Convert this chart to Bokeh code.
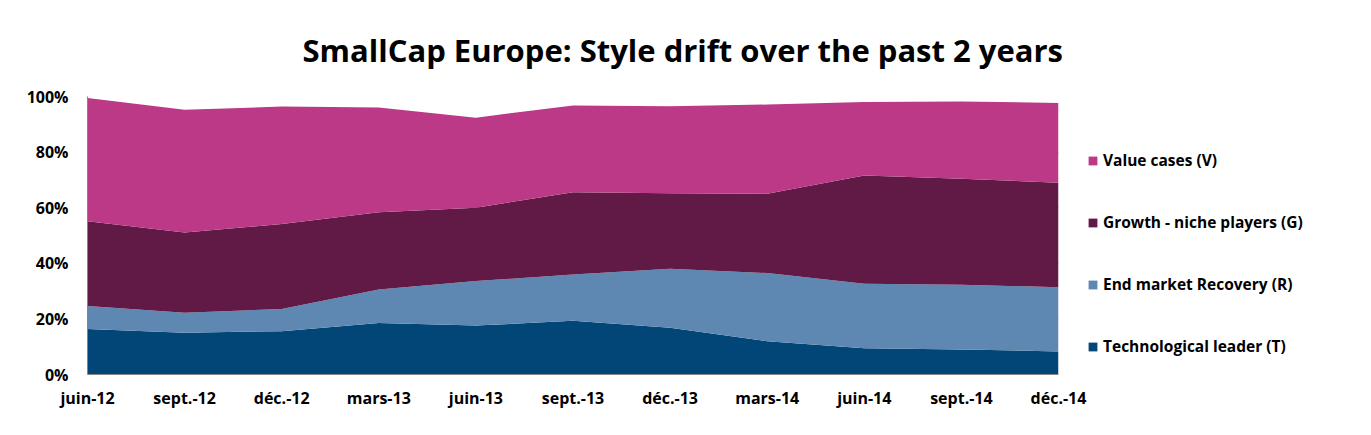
from bokeh.plotting import figure
from bokeh.models import FixedTicker, Range1d, Legend, LegendItem, ColumnDataSource
from bokeh.embed import file_html
from bokeh.resources import INLINE

categories = ["juin-12", "sept.-12", "déc.-12", "mars-13", "juin-13", "sept.-13",
              "déc.-13", "mars-14", "juin-14", "sept.-14", "déc.-14"]
tech = [16.4, 15.0, 15.6, 18.5, 17.6, 19.3, 16.8, 12.0, 9.4, 9.0, 8.3]
recovery = [8.2, 7.2, 8.0, 12.1, 16.0, 16.7, 21.2, 24.5, 23.2, 23.3, 23.1]
growth = [30.5, 28.9, 30.5, 27.8, 26.4, 29.6, 27.2, 28.5, 39.0, 38.1, 37.6]
value_cases = [44.4, 44.1, 42.3, 37.6, 32.4, 31.2, 31.3, 32.1, 26.4, 27.8, 28.7]
y_ticks = [0, 20, 40, 60, 80, 100]
series_names = ["Technological leader (T)", "End market Recovery (R)",
                "Growth - niche players (G)", "Value cases (V)"]
colors = ["#014677", "#5E88B1", "#611A46", "#BB3987"]

FONT = "Open Sans"

src = ColumnDataSource(dict(x=list(range(len(categories))), T=tech, R=recovery, G=growth, V=value_cases))

p = figure(frame_width=971, frame_height=278, output_backend="svg", toolbar_location=None,
           min_border_left=87, min_border_right=250, min_border_top=96, min_border_bottom=55,
           x_range=Range1d(0, len(categories) - 1), y_range=Range1d(0, 100))
p.outline_line_color = None
p.background_fill_color = "white"

renderers = p.varea_stack(["T", "R", "G", "V"], x="x", source=src, color=colors)

# axes
p.xaxis.ticker = FixedTicker(ticks=list(range(len(categories))))
p.xaxis.major_label_overrides = {i: c for i, c in enumerate(categories)}
p.yaxis.ticker = FixedTicker(ticks=y_ticks)
p.yaxis.major_label_overrides = {t: f"{t}%" for t in y_ticks}
for ax in (p.xaxis, p.yaxis):
    ax.axis_line_color = "#868686"
    ax.axis_line_width = 1
    ax.major_tick_line_color = None
    ax.minor_tick_line_color = None
    ax.major_tick_out = 0
    ax.major_tick_in = 0
    ax.major_label_text_font = FONT
    ax.major_label_text_font_style = "bold"
    ax.major_label_text_color = "black"
p.xaxis.major_label_text_font_size = "16px"
p.yaxis.major_label_text_font_size = "16px"
p.xaxis.major_label_standoff = 12
p.yaxis.major_label_standoff = 19

p.xgrid.grid_line_color = None
p.ygrid.grid_line_color = "#868686"
p.ygrid.ticker = FixedTicker(ticks=y_ticks)

# title
p.title.text = "SmallCap Europe: Style drift over the past 2 years"
p.title.text_font = FONT
p.title.text_font_style = "bold"
p.title.text_font_size = "31px"
p.title.text_color = "black"
p.title.align = "left"
p.title.offset = 215
p.title.standoff = 51

items = [LegendItem(label=series_names[i], renderers=[renderers[i]]) for i in [3, 2, 1, 0]]
legend = Legend(items=items, location="top_left", orientation="vertical",
                background_fill_alpha=0, border_line_color=None,
                padding=0, margin=29, spacing=40, label_height=20,
                glyph_width=11, glyph_height=11, label_standoff=5,
                title=" ", title_text_font_size="14px", title_standoff=8,
                label_text_font=FONT, label_text_font_style="bold",
                label_text_font_size="15.5px", label_text_color="black")
p.add_layout(legend, "right")

open("out.html", "w").write(file_html(p, INLINE))
